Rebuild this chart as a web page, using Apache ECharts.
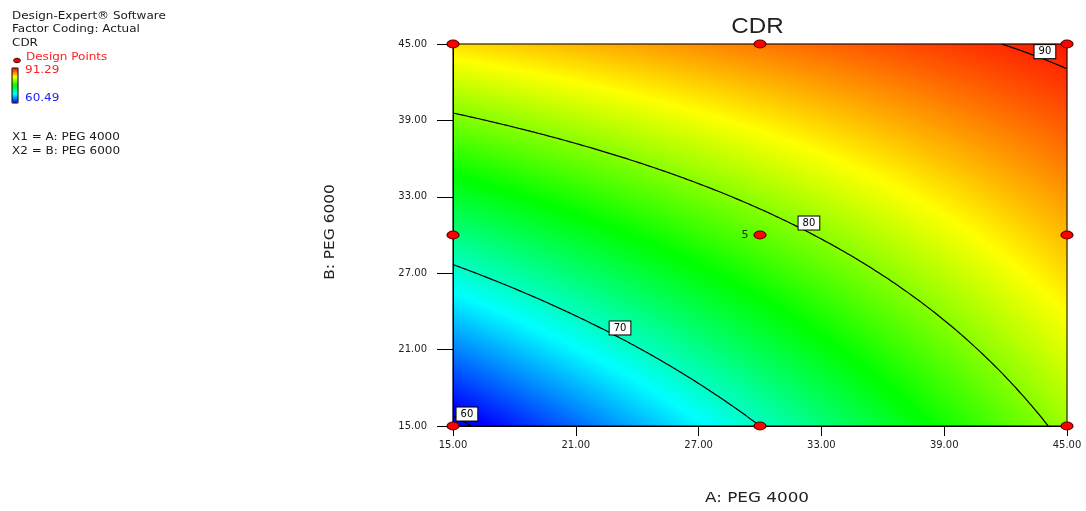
<!DOCTYPE html>
<html>
<head>
<meta charset="utf-8">
<script src="https://cdn.jsdelivr.net/npm/echarts@6/dist/echarts.min.js"></script>
<style>
html,body{margin:0;padding:0;background:#ffffff;}
#chart{width:1086px;height:511px;}
</style>
</head>
<body>
<div id="chart"></div>
<script>
// ---------------- data ----------------
const chartTitle = 'CDR';
const xAxisName = 'A: PEG 4000';
const yAxisName = 'B: PEG 6000';
const factorRange = [15, 45];                 // both factors, actual units
const tickValues = [15, 21, 27, 33, 39, 45];
const tickLabels = ['15.00', '21.00', '27.00', '33.00', '39.00', '45.00'];
// quadratic response-surface model in coded units (estimated from contours & colours)
const modelTerms = ['Intercept', 'A', 'B', 'AB', 'A^2', 'B^2'];
const modelCoefficients = [78.8, 6.85, 8.8, -3.8, 0, 0];
const responseRange = [60.49, 91.29];          // colour scale (min / max observed)
const responseColors = ['#0000ff', '#00ffff', '#00ff00', '#ffff00', '#ff0000'];
const designA = [15, 15, 15, 30, 30, 30, 45, 45, 45];
const designB = [15, 30, 45, 15, 30, 45, 15, 30, 45];
const designReplicates = [1, 1, 1, 1, 5, 1, 1, 1, 1];
const contourLevels = [60, 70, 80, 90];
const contourLabelA = [15.68, 23.16, 32.39, 43.92];
const contourLabelB = [15.94, 22.70, 30.94, 44.40];
const infoLines = ['Design-Expert\u00ae Software', 'Factor Coding: Actual', 'CDR'];
const legendPointLabel = 'Design Points';
const factorLines = ['X1 = A: PEG 4000', 'X2 = B: PEG 6000'];

// ---------------- helpers ----------------
const mid = (factorRange[0] + factorRange[1]) / 2;
const half = (factorRange[1] - factorRange[0]) / 2;
function predict(A, B) {
  const a = (A - mid) / half, b = (B - mid) / half;
  const k = modelCoefficients;
  return k[0] + k[1] * a + k[2] * b + k[3] * a * b + k[4] * a * a + k[5] * b * b;
}
function contourPoints(L) {
  const k = modelCoefficients, pts = [];
  const steps = 3000;
  for (let s = 0; s <= steps; s++) {
    const A = factorRange[0] + (factorRange[1] - factorRange[0]) * s / steps;
    const a = (A - mid) / half;
    const lin = k[2] + k[3] * a;
    const c0 = k[0] + k[1] * a + k[4] * a * a - L;
    let b;
    if (Math.abs(k[5]) < 1e-9) b = -c0 / lin;
    else {
      const d = lin * lin - 4 * k[5] * c0;
      if (d < 0) continue;
      b = (-lin + Math.sqrt(d)) / (2 * k[5]);
    }
    const B = mid + half * b;
    if (B >= factorRange[0] && B <= factorRange[1]) pts.push([A, B]);
  }
  return pts;
}

// heatmap cells (2px cells: 307 x 191 over a 614 x 382 px plot)
const nA = 307, nB = 191;
const catA = [], catB = [], heat = [];
for (let i = 0; i < nA; i++) catA.push(String(i));
for (let j = 0; j < nB; j++) catB.push(String(j));
for (let i = 0; i < nA; i++) {
  const A = factorRange[0] + (i + 0.5) * (factorRange[1] - factorRange[0]) / nA;
  for (let j = 0; j < nB; j++) {
    const B = factorRange[0] + (j + 0.5) * (factorRange[1] - factorRange[0]) / nB;
    let v = predict(A, B);
    v = Math.max(responseRange[0], Math.min(responseRange[1], v));
    heat.push([i, j, v]);
  }
}

const FONT = 'DejaVu Sans';
const series = [];
series.push({
  type: 'heatmap', xAxisIndex: 1, yAxisIndex: 1, data: heat,
  progressive: 0, silent: true, z: 1, emphasis: {disabled: true}
});
contourLevels.forEach(function (L) {
  series.push({
    type: 'line', xAxisIndex: 0, yAxisIndex: 0, data: contourPoints(L),
    showSymbol: false, symbol: 'none', silent: true, z: 3,
    lineStyle: {color: '#000000', width: 1.2}
  });
});
series.push({
  type: 'scatter', xAxisIndex: 0, yAxisIndex: 0, silent: true, z: 4,
  data: contourLevels.map(function (L, i) { return [contourLabelA[i], contourLabelB[i], L]; }),
  symbolSize: 1, itemStyle: {color: 'rgba(0,0,0,0)', opacity: 1},
  label: {
    show: true, position: 'inside', formatter: function (p) { return String(p.value[2]); },
    fontFamily: FONT, fontSize: 10, color: '#000000', backgroundColor: '#ffffff', opacity: 1,
    borderColor: '#000000', borderWidth: 1, padding: [1, 4, 0, 4], lineHeight: 12
  }
});
series.push({
  type: 'scatter', xAxisIndex: 0, yAxisIndex: 0, silent: true, z: 10, clip: false,
  data: designA.map(function (A, i) { return [A, designB[i], designReplicates[i]]; }),
  symbol: 'circle', symbolSize: [12, 8],
  itemStyle: {color: '#ff0000', borderColor: '#5a0000', borderWidth: 1, opacity: 1},
  label: {
    show: true, position: 'left', distance: 5,
    formatter: function (p) { return p.value[2] > 1 ? String(p.value[2]) : ''; },
    fontFamily: FONT, fontSize: 11, color: '#143014'
  }
});

function txt(x, y, text, opt) {
  opt = opt || {};
  return {
    type: 'text', x: x, y: y, scaleX: opt.scaleX || 1.2, rotation: opt.rotation || 0, z: 20,
    style: {
      text: text, fill: opt.color || '#1a1a1a',
      font: (opt.size || 10) + 'px "' + (opt.family || FONT) + '"',
      textAlign: opt.align || 'left', textVerticalAlign: opt.valign || 'top'
    }
  };
}
const graphics = [];
infoLines.forEach(function (t, i) { graphics.push(txt(12, [11, 24, 38][i], t)); });
graphics.push(txt(26, 52, legendPointLabel, {color: '#ff2020'}));
graphics.push({type: 'ellipse', shape: {cx: 17, cy: 60.5, rx: 3.5, ry: 2.2}, z: 20,
  style: {fill: '#ff0000', stroke: '#3a0000', lineWidth: 1}});
graphics.push(txt(25, 65, responseRange[1].toFixed(2), {color: '#ff2020'}));
graphics.push(txt(25, 93, responseRange[0].toFixed(2), {color: '#2020ff'}));
graphics.push({type: 'rect', shape: {x: 12, y: 68, width: 6, height: 35}, z: 20,
  style: {fill: 'none', stroke: '#000000', lineWidth: 1}});
factorLines.forEach(function (t, i) { graphics.push(txt(12, [132, 146][i], t)); });
graphics.push(txt(757.5, 27, chartTitle, {size: 22, family: 'Liberation Sans', align: 'center', valign: 'middle', scaleX: 1.1, color: '#222222'}));
graphics.push(txt(757, 498, xAxisName, {size: 14, align: 'center', valign: 'middle', scaleX: 1.2, color: '#222222'}));
graphics.push(txt(330, 232, yAxisName, {size: 14, align: 'center', valign: 'middle', scaleX: 1.1, rotation: Math.PI / 2, color: '#222222'}));

const chart = echarts.init(document.getElementById('chart'), null, {renderer: 'canvas'});
chart.setOption({
  animation: false,
  backgroundColor: '#ffffff',
  grid: {left: 453, top: 44, width: 614, height: 382, show: true, backgroundColor: 'transparent',
    borderColor: '#000000', borderWidth: 1, z: 5},
  xAxis: [
    {type: 'value', position: 'bottom', min: factorRange[0], max: factorRange[1], interval: 6, z: 6,
      axisLine: {show: true, lineStyle: {color: '#000000', width: 1}},
      axisTick: {show: true, length: 10, lineStyle: {color: '#000000'}},
      splitLine: {show: false},
      axisLabel: {margin: 14, fontFamily: FONT, fontSize: 10, color: '#222222',
        formatter: function (v) { const i = tickValues.indexOf(v); return i >= 0 ? tickLabels[i] : ''; }}},
    {type: 'category', position: 'top', data: catA, show: false, boundaryGap: true}
  ],
  yAxis: [
    {type: 'value', position: 'left', min: factorRange[0], max: factorRange[1], interval: 6, z: 6,
      axisLine: {show: true, lineStyle: {color: '#000000', width: 1}},
      axisTick: {show: true, length: 16, lineStyle: {color: '#000000'}},
      splitLine: {show: false},
      axisLabel: {margin: 26, fontFamily: FONT, fontSize: 10, color: '#222222',
        formatter: function (v) { const i = tickValues.indexOf(v); return i >= 0 ? tickLabels[i] : ''; }}},
    {type: 'category', position: 'right', data: catB, show: false, boundaryGap: true}
  ],
  visualMap: {
    type: 'continuous', seriesIndex: 0, dimension: 2,
    min: responseRange[0], max: responseRange[1],
    inRange: {color: responseColors},
    show: true, calculable: false, orient: 'vertical',
    left: 12, top: 68, itemWidth: 6, itemHeight: 35, padding: 0
  },
  graphic: graphics,
  series: series
});
</script>
</body>
</html>
